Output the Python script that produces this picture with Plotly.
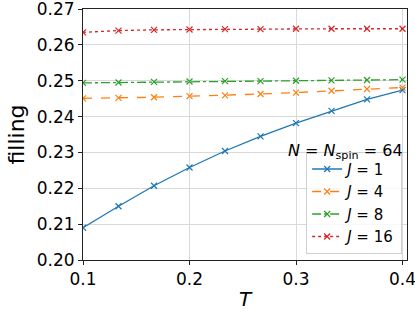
import plotly.graph_objects as go

T = [0.1, 0.13333, 0.16667, 0.2, 0.23333, 0.26667, 0.3, 0.33333, 0.36667, 0.4]
J1 = [0.2090, 0.2150, 0.2207, 0.2258, 0.2304, 0.2345, 0.2382, 0.2416, 0.2448, 0.2474]
J4 = [0.2451, 0.2452, 0.2454, 0.2457, 0.2459, 0.2463, 0.2467, 0.2472, 0.2477, 0.2481]
J8 = [0.2494, 0.2495, 0.2497, 0.2498, 0.2499, 0.2499, 0.2500, 0.2501, 0.2502, 0.2503]
J16 = [0.2635, 0.2640, 0.2642, 0.2643, 0.2644, 0.2644, 0.2645, 0.2645, 0.2645, 0.2645]

series = [
    ("<i>J</i> = 1", J1, "#1f77b4", "solid"),
    ("<i>J</i> = 4", J4, "#ff7f0e", "dash"),
    ("<i>J</i> = 8", J8, "#2ca02c", "dashdot"),
    ("<i>J</i> = 16", J16, "#d62728", "dot"),
]

fig = go.Figure()
for name, ys, col, dash in series:
    fig.add_trace(go.Scatter(
        x=T, y=ys, name=name, mode="lines+markers",
        line=dict(color=col, width=1.3, dash=dash),
        marker=dict(symbol="x-thin-open", size=6, color=col, line=dict(color=col, width=1.2)),
    ))

fig.add_annotation(
    x=0.346, y=0.2302, xref="x", yref="y",
    text="<i>N</i> = <i>N</i><sub>spin</sub> = 64",
    showarrow=False, font=dict(size=16, color="black"),
)

axis_common = dict(
    showline=True, linecolor="#222", linewidth=1, mirror=True,
    ticks="outside", ticklen=4, tickcolor="#222",
    showgrid=True, gridcolor="#d9d9d9", gridwidth=1,
    zeroline=False, tickfont=dict(size=17, color="black"),
    ticklabeloverflow="allow", automargin=False,
)

fig.update_layout(
    width=415, height=312,
    margin=dict(l=83, r=8, t=9, b=52),
    paper_bgcolor="white", plot_bgcolor="white",
    font=dict(family="DejaVu Sans", color="black"),
    showlegend=True,
    legend=dict(
        x=0.985, y=0.025, xanchor="right", yanchor="bottom",
        bgcolor="rgba(255,255,255,0.8)", bordercolor="#d0d0d0", borderwidth=1,
        font=dict(size=15), tracegroupgap=0, itemwidth=30,
    ),
    xaxis=dict(axis_common, range=[0.1, 0.4042], tickvals=[0.1, 0.2, 0.3, 0.4],
               ticktext=["0.1", "0.2", "0.3", "0.4"],
               title=dict(text="<i>T</i>", font=dict(size=20), standoff=3)),
    yaxis=dict(axis_common, range=[0.2, 0.27001], tickvals=[0.20, 0.21, 0.22, 0.23, 0.24, 0.25, 0.26, 0.27],
               ticktext=["0.20", "0.21", "0.22", "0.23", "0.24", "0.25", "0.26", "0.27"],
               title=dict(text="filling", font=dict(size=22), standoff=6)),
)

fig.write_html("out.html", config={"displayModeBar": False},
               post_script="document.body.style.margin='0';document.body.style.overflow='hidden';")
